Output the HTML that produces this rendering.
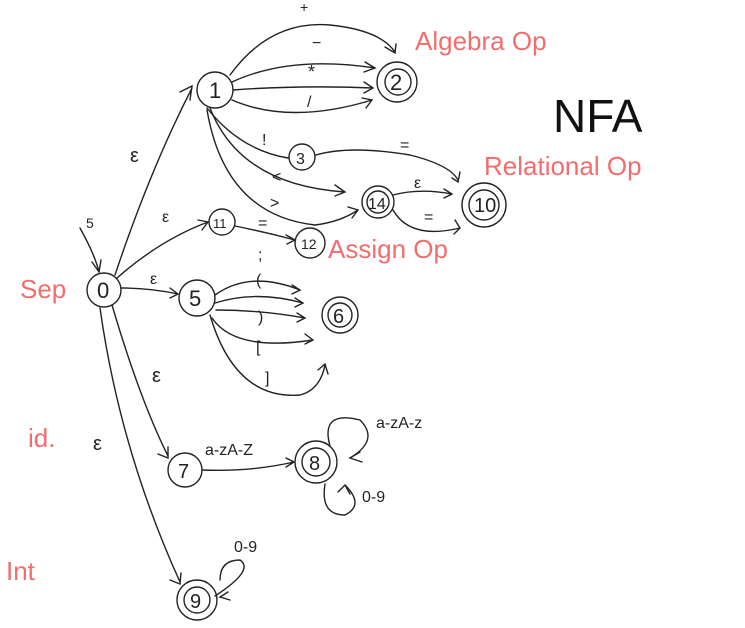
<!DOCTYPE html>
<html><head><meta charset="utf-8"><style>
body{margin:0;background:#fff}
svg{display:block}
text{font-family:"Liberation Sans",sans-serif}
.r{fill:#f26d6d;font-size:26px}
.k{fill:#222;font-size:16px}
path,circle{fill:none;stroke:#222;stroke-width:1.4;stroke-linecap:round}
</style></head><body>
<svg width="745" height="628" viewBox="0 0 745 628">
<g>
<circle cx="104" cy="290" r="17"/>
<circle cx="215" cy="90" r="18"/>
<circle cx="397" cy="82" r="20"/><circle cx="398" cy="82" r="13"/>
<circle cx="302" cy="157" r="13"/>
<circle cx="378" cy="202" r="16"/><circle cx="378" cy="202" r="11"/>
<circle cx="484" cy="205" r="22"/><circle cx="484" cy="205" r="15"/>
<circle cx="222" cy="222" r="13"/>
<circle cx="310" cy="243" r="15"/>
<circle cx="197" cy="298" r="18"/>
<circle cx="340" cy="315" r="18"/><circle cx="340" cy="315" r="12"/>
<circle cx="185" cy="470" r="17"/>
<circle cx="316" cy="462" r="21"/><circle cx="316" cy="462" r="14"/>
<circle cx="197" cy="600" r="20"/><circle cx="197" cy="600" r="13"/>
</g>
<g class="k" font-size="20">
<text x="97" y="298" font-size="22">0</text><text x="209" y="98" font-size="22">1</text>
<text x="390" y="90" font-size="22">2</text><text x="296" y="164">3</text>
<text x="368" y="209">14</text><text x="474" y="212" font-size="20">10</text>
<text x="213" y="228" font-size="13">11</text><text x="301" y="249" font-size="14">12</text>
<text x="189" y="306" font-size="22">5</text><text x="333" y="323" font-size="20">6</text>
<text x="178" y="478" font-size="20">7</text><text x="309" y="470" font-size="20">8</text><text x="190" y="608" font-size="20">9</text>
</g>
<g>
<path d="M80 228 Q95 255 99 272 M92 262 L99 272 L101 260"/>
<path d="M115 275 Q150 170 192 88 M180 92 L192 86 L190 100"/>
<path d="M230 75 Q270 20 330 25 Q380 30 395 52 M385 47 L395 53 L396 44"/>
<path d="M232 82 Q290 55 375 68 M365 62 L375 68 L364 72"/>
<path d="M233 90 Q300 85 373 88 M364 82 L373 88 L364 93"/>
<path d="M232 100 Q290 125 372 100 M362 98 L372 100 L366 108"/>
<path d="M207 108 Q240 150 288 158"/>
<path d="M316 155 Q350 145 410 155 Q450 165 458 180 M452 178 L458 182 L460 172"/>
<path d="M210 108 Q240 185 345 192 M335 185 L345 192 L335 196"/>
<path d="M207 110 Q225 215 315 225 Q340 222 358 210 M348 207 L358 210 L352 218"/>
<path d="M393 195 Q420 188 452 194 M444 189 L452 194 L444 198"/>
<path d="M393 210 Q410 240 460 228 M455 220 L460 228 L454 234"/>
<path d="M117 278 Q160 240 208 222 M198 220 L208 222 L202 230"/>
<path d="M235 226 Q265 232 295 240 M286 235 L295 240 L287 244"/>
<path d="M121 288 Q150 288 178 294 M170 288 L178 294 L170 298"/>
<path d="M215 295 Q250 270 300 290 M292 285 L300 290 L292 294"/>
<path d="M215 303 Q255 290 303 303 M295 298 L303 303 L295 307"/>
<path d="M216 310 Q260 310 305 318 M297 313 L305 318 L297 322"/>
<path d="M212 318 Q235 352 313 340 M305 334 L313 340 L305 344"/>
<path d="M210 315 Q235 400 300 395 Q320 390 325 365 M318 370 L325 364 L328 374"/>
<path d="M112 305 Q140 400 168 456 M158 454 L168 458 L168 447"/>
<path d="M100 308 Q120 450 180 582 M170 580 L180 584 L181 573"/>
<path d="M203 470 Q250 472 294 462 M286 458 L294 462 L286 467"/>
<path d="M330 446 Q320 410 360 420 Q380 440 350 458 M360 452 L350 458 L362 462"/>
<path d="M325 484 Q320 515 345 515 Q365 505 345 485 M338 492 L345 485 L350 494"/>
<path d="M215 596 Q255 570 240 560 Q220 560 220 580"/>
<path d="M230 600 L220 597 L228 592"/>
</g>
<g class="k">
<text x="86" y="228" font-size="14">5</text>
<text x="300" y="12" font-size="14">+</text><text x="312" y="48">−</text>
<text x="308" y="78" font-size="18">*</text><text x="307" y="107">/</text>
<text x="262" y="145">!</text><text x="400" y="150">=</text>
<text x="272" y="182">&lt;</text><text x="270" y="208">&gt;</text>
<text x="414" y="188">ε</text><text x="424" y="222">=</text>
<text x="258" y="228">=</text><text x="130" y="162" font-size="20">ε</text>
<text x="162" y="222">ε</text><text x="150" y="284">ε</text>
<text x="258" y="260">;</text><text x="256" y="285">(</text>
<text x="258" y="322">)</text><text x="256" y="352">[</text>
<text x="265" y="383">]</text><text x="152" y="382" font-size="20">ε</text>
<text x="93" y="450" font-size="20">ε</text><text x="205" y="455">a-zA-Z</text>
<text x="376" y="428">a-zA-z</text><text x="362" y="502">0-9</text><text x="234" y="552">0-9</text>
</g>
<g>
<text class="r" x="415" y="50" font-size="22">Algebra Op</text>
<text class="r" x="484" y="175" font-size="20">Relational Op</text>
<text class="r" x="328" y="258" font-size="22">Assign Op</text>
<text class="r" x="20" y="298">Sep</text>
<text class="r" x="28" y="447">id.</text>
<text class="r" x="6" y="580" font-size="30">Int</text>
<text x="553" y="132" font-size="46" fill="#111">NFA</text>
</g>
</svg>
</body></html>
